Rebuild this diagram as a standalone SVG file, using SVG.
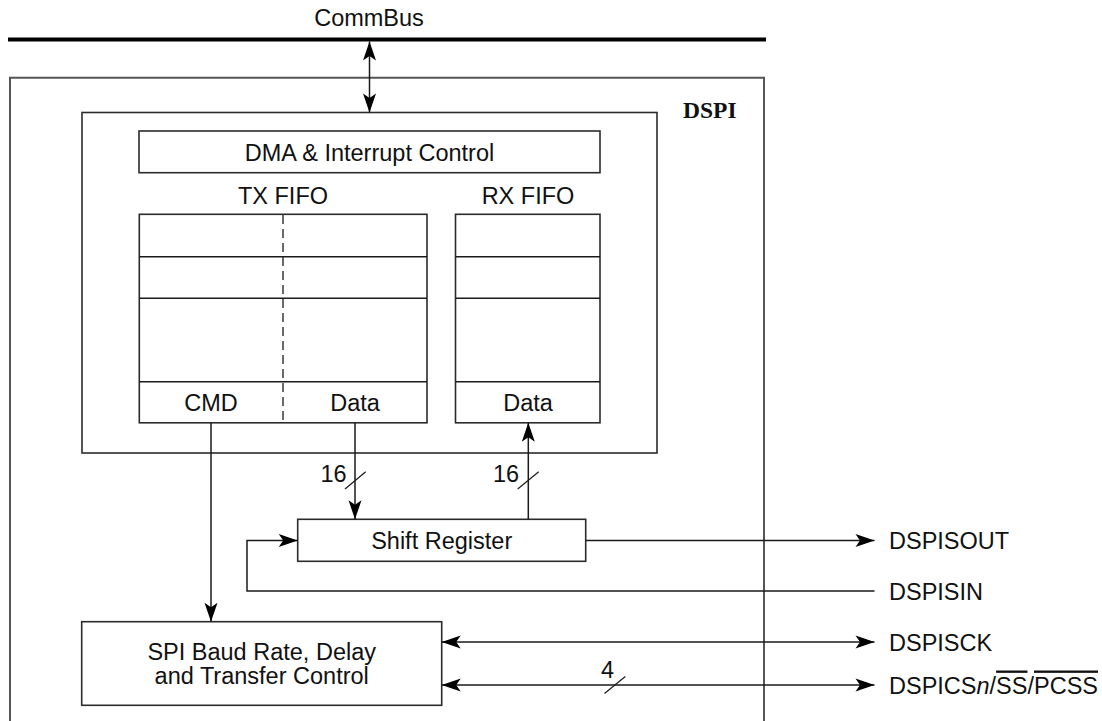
<svg xmlns="http://www.w3.org/2000/svg" width="1102" height="721" viewBox="0 0 1102 721">
  <style>
    .box { fill: #ffffff; stroke: #2b2b2b; stroke-width: 1.6; }
    .ln { fill: none; stroke: #1a1a1a; stroke-width: 1.5; }
    .thin { fill: none; stroke: #1a1a1a; stroke-width: 1.2; }
    .t { font-family: "Liberation Sans", Arial, Helvetica, sans-serif; font-size: 23.5px; fill: #111; }
    .c { text-anchor: middle; }
  </style>
  <defs>
    <marker id="arr" markerUnits="userSpaceOnUse" markerWidth="22" markerHeight="16" viewBox="-20 -8 21 16" refX="0" refY="0" orient="auto-start-reverse">
      <path d="M0,0 L-19,-6.5 L-14.5,0 L-19,6.5 Z" fill="#000"/>
    </marker>
  </defs>

  <g id="commbus">
    <line x1="8" y1="39.5" x2="766" y2="39.5" stroke="#000" stroke-width="4"/>
    <text class="t c" x="369" y="26">CommBus</text>
  </g>

  <g id="dspi">
    <path d="M10,730 V77.7 H764 V730" fill="none" stroke="#555" stroke-width="2"/>
    <text x="683" y="117.5" font-family="'Liberation Serif', 'Times New Roman', serif" font-weight="bold" font-size="23.5" fill="#111">DSPI</text>
  </g>

  <g id="dspi-core">
    <rect class="box" x="82" y="112.5" width="575" height="340.5"/>
  </g>

  <g id="dma">
    <rect class="box" x="139" y="131" width="461" height="41.7"/>
    <text class="t c" x="369.5" y="161">DMA &amp; Interrupt Control</text>
  </g>

  <g id="tx-fifo">
    <text class="t c" x="283" y="204">TX FIFO</text>
    <rect class="box" x="139.3" y="214.3" width="287.7" height="208.5"/>
    <line class="ln" x1="139.3" y1="256.7" x2="427" y2="256.7"/>
    <line class="ln" x1="139.3" y1="298.3" x2="427" y2="298.3"/>
    <line class="ln" x1="139.3" y1="381.7" x2="427" y2="381.7"/>
    <line x1="283" y1="215" x2="283" y2="422" stroke="#2b2b2b" stroke-width="1.4" stroke-dasharray="9,5"/>
    <text class="t c" x="211" y="411">CMD</text>
    <text class="t c" x="355" y="411">Data</text>
  </g>

  <g id="rx-fifo">
    <text class="t c" x="528" y="204">RX FIFO</text>
    <rect class="box" x="455.5" y="214.3" width="144.5" height="208.5"/>
    <line class="ln" x1="455.5" y1="256.7" x2="600" y2="256.7"/>
    <line class="ln" x1="455.5" y1="298.3" x2="600" y2="298.3"/>
    <line class="ln" x1="455.5" y1="381.7" x2="600" y2="381.7"/>
    <text class="t c" x="528" y="411">Data</text>
  </g>

  <g id="shift-register">
    <rect class="box" x="297.7" y="519.3" width="288" height="42"/>
    <text class="t c" x="441.7" y="549">Shift Register</text>
  </g>

  <g id="spi-baud">
    <rect class="box" x="81.7" y="621.7" width="360" height="83.6"/>
    <text class="t c" x="261.7" y="659.5">SPI Baud Rate, Delay</text>
    <text class="t c" x="261.7" y="684">and Transfer Control</text>
  </g>

  <g id="signals">
    <text class="t" x="889" y="549">DSPISOUT</text>
    <text class="t" x="889" y="599.5">DSPISIN</text>
    <text class="t" x="889" y="650.5">DSPISCK</text>
    <text class="t" x="889" y="693.5">DSPICS<tspan font-style="italic">n</tspan>/<tspan text-decoration="overline">SS</tspan>/<tspan text-decoration="overline">PCSS</tspan></text>
  </g>

  <g id="connectors">
    <line class="ln" x1="369.5" y1="41.5" x2="369.5" y2="112.5" marker-start="url(#arr)" marker-end="url(#arr)"/>
    <line class="ln" x1="211" y1="422.8" x2="211" y2="621.7" marker-end="url(#arr)"/>
    <line class="ln" x1="355" y1="422.8" x2="355" y2="519.3" marker-end="url(#arr)"/>
    <line class="ln" x1="528.3" y1="519.3" x2="528.3" y2="422.8" marker-end="url(#arr)"/>
    <line class="thin" x1="345" y1="489" x2="365.7" y2="471.7"/>
    <text class="t c" x="333.5" y="482">16</text>
    <line class="thin" x1="517.7" y1="489" x2="538.7" y2="471.7"/>
    <text class="t c" x="506" y="482">16</text>
    <line class="ln" x1="585.7" y1="540.5" x2="874.5" y2="540.5" marker-end="url(#arr)"/>
    <path class="ln" d="M874.5,591 H247 V540.5 H297.7" marker-end="url(#arr)"/>
    <line class="ln" x1="441.7" y1="642" x2="874.5" y2="642" marker-start="url(#arr)" marker-end="url(#arr)"/>
    <line class="ln" x1="441.7" y1="685" x2="874.5" y2="685" marker-start="url(#arr)" marker-end="url(#arr)"/>
    <line class="thin" x1="604.5" y1="693.5" x2="625.3" y2="676.5"/>
    <text class="t c" x="607.5" y="678">4</text>
  </g>
</svg>
